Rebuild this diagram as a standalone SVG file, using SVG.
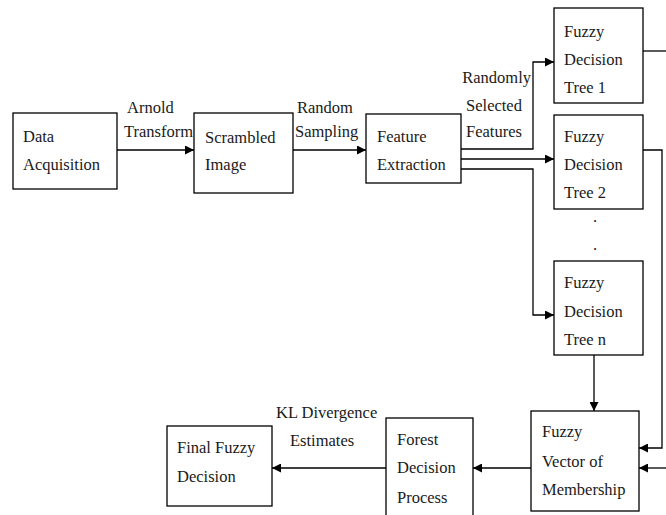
<svg xmlns="http://www.w3.org/2000/svg" width="666" height="515" viewBox="0 0 666 515" font-family="Liberation Serif, serif" font-size="16.5">
<style>
.box{fill:#fff;stroke:#000;stroke-width:1.3}
.c{fill:none;stroke:#000;stroke-width:1.3}
text{fill:#1a1a1a}
</style>
<defs>
<marker id="ah" markerUnits="userSpaceOnUse" markerWidth="9" markerHeight="9" refX="9" refY="4.5" orient="auto">
<path d="M0,0 L9,4.5 L0,9 z" fill="#000"/>
</marker>
</defs>
<rect width="666" height="515" fill="#fff"/>
<g id="connectors">
<line class="c" x1="117" y1="150" x2="194" y2="150" marker-end="url(#ah)"/>
<line class="c" x1="293" y1="150" x2="366" y2="150" marker-end="url(#ah)"/>
<polyline class="c" points="461,149 533,149 533,62 554,62" marker-end="url(#ah)"/>
<line class="c" x1="461" y1="159" x2="554" y2="159" marker-end="url(#ah)"/>
<polyline class="c" points="461,169 533,169 533,315 554,315" marker-end="url(#ah)"/>
<line class="c" x1="643" y1="51" x2="667" y2="51"/>
<polyline class="c" points="643,150 662,150 662,448 639,448" marker-end="url(#ah)"/>
<line class="c" x1="667" y1="468" x2="639" y2="468" marker-end="url(#ah)"/>
<line class="c" x1="594" y1="355" x2="594" y2="411" marker-end="url(#ah)"/>
<line class="c" x1="531" y1="468" x2="473" y2="468" marker-end="url(#ah)"/>
<line class="c" x1="386" y1="468" x2="272" y2="468" marker-end="url(#ah)"/>
<text x="127" y="113">Arnold</text>
<text x="124" y="137">Transform</text>
<text x="297" y="113">Random</text>
<text x="295" y="137">Sampling</text>
<text x="531" y="83" text-anchor="end">Randomly</text>
<text x="494" y="111" text-anchor="middle">Selected</text>
<text x="494" y="137" text-anchor="middle">Features</text>
<text x="276" y="418">KL Divergence</text>
<text x="290" y="446">Estimates</text>
</g>
<g id="data-acquisition">
<rect class="box" x="13" y="113" width="104" height="76"/>
<text x="23" y="142">Data</text>
<text x="23" y="170">Acquisition</text>
</g>
<g id="scrambled-image">
<rect class="box" x="194" y="113" width="99" height="80"/>
<text x="205" y="143">Scrambled</text>
<text x="205" y="170">Image</text>
</g>
<g id="feature-extraction">
<rect class="box" x="366" y="114" width="95" height="69"/>
<text x="377" y="142">Feature</text>
<text x="377" y="170">Extraction</text>
</g>
<g id="tree-1">
<rect class="box" x="554" y="8" width="89" height="95"/>
<text x="564" y="37">Fuzzy</text>
<text x="564" y="65">Decision</text>
<text x="564" y="93">Tree 1</text>
</g>
<g id="tree-2">
<rect class="box" x="554" y="115" width="89" height="94"/>
<text x="564" y="142">Fuzzy</text>
<text x="564" y="170">Decision</text>
<text x="564" y="198">Tree 2</text>
</g>
<g id="dots">
<text x="593" y="222">.</text>
<text x="593" y="250">.</text>
</g>
<g id="tree-n">
<rect class="box" x="554" y="261" width="89" height="94"/>
<text x="564" y="288">Fuzzy</text>
<text x="564" y="317">Decision</text>
<text x="564" y="345">Tree n</text>
</g>
<g id="fuzzy-vector">
<rect class="box" x="531" y="411" width="108" height="100"/>
<text x="542" y="437">Fuzzy</text>
<text x="542" y="467">Vector of</text>
<text x="542" y="495">Membership</text>
</g>
<g id="forest-decision">
<rect class="box" x="386" y="418" width="87" height="100"/>
<text x="397" y="445">Forest</text>
<text x="397" y="473">Decision</text>
<text x="397" y="503">Process</text>
</g>
<g id="final-decision">
<rect class="box" x="167" y="426" width="105" height="80"/>
<text x="177" y="453">Final Fuzzy</text>
<text x="177" y="482">Decision</text>
</g>
</svg>
